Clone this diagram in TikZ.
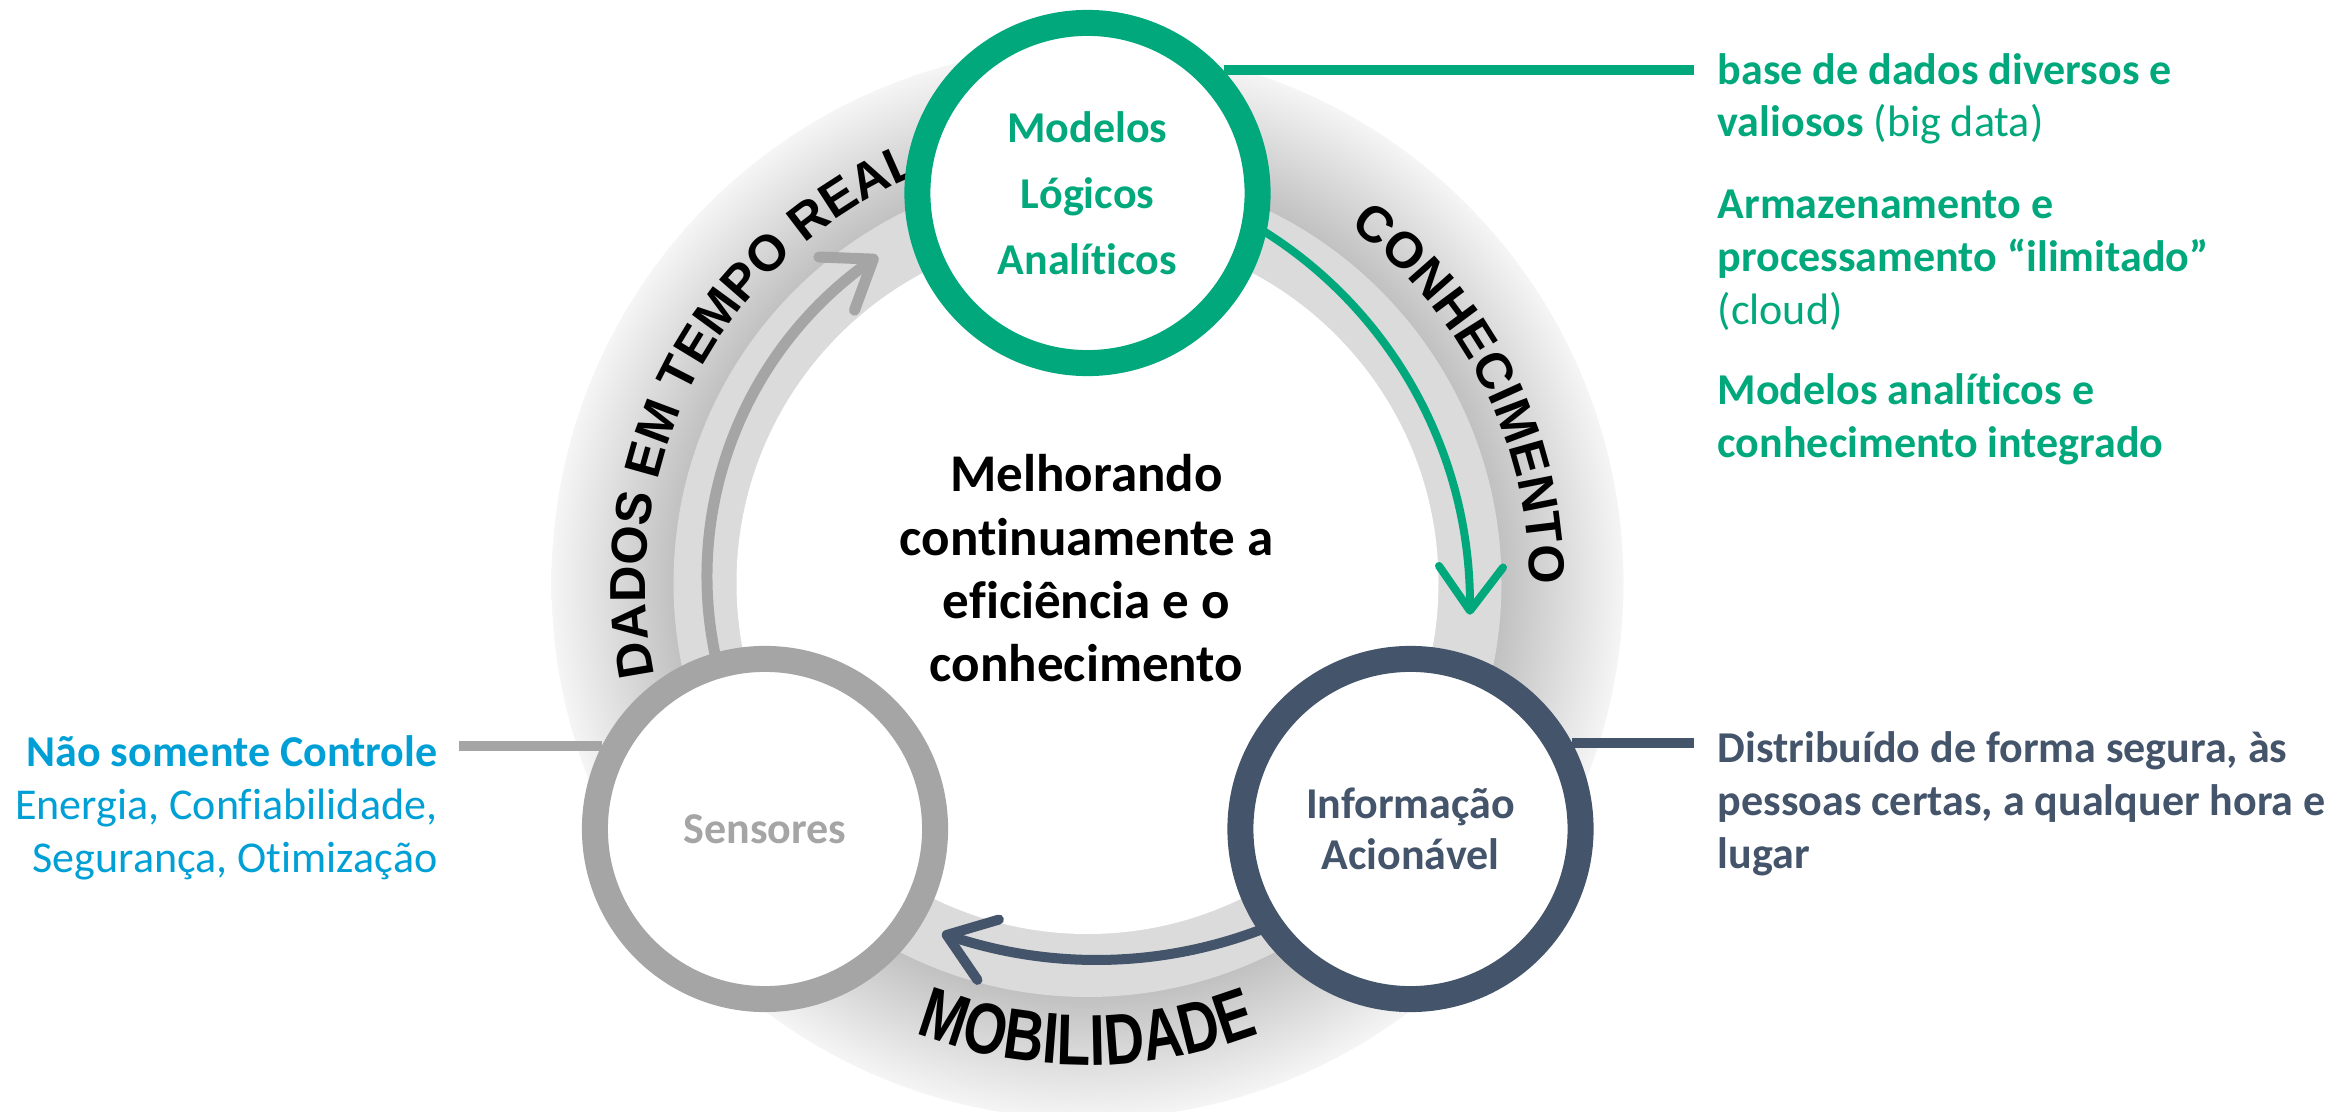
\documentclass[tikz,border=0pt]{standalone}
\usepackage{fontspec}
\setmainfont{Carlito}[Ligatures=NoCommon]
\newfontfamily\arcfont{Liberation Sans}
\newfontfamily\botfont{Liberation Sans}[FakeStretch=0.77]
\usetikzlibrary{arrows.meta,bending,decorations.text,calc}
\definecolor{cgreen}{RGB}{0,168,124}
\definecolor{cnavy}{RGB}{68,84,106}
\definecolor{cgray}{RGB}{165,165,165}
\definecolor{ccyan}{RGB}{0,160,214}
\definecolor{bandlight}{RGB}{219,219,219}
\definecolor{ringin}{RGB}{193,193,193}
\definecolor{ringout}{RGB}{245,245,245}
\pgfdeclareradialshading{ringshade}{\pgfpoint{0bp}{0bp}}{color(0bp)=(ringin); color(19.31bp)=(ringin); color(25bp)=(ringout); color(50bp)=(ringout)}
\newcommand\sidefont{\fontsize{12.52pt}{14.94pt}\selectfont}
\newcommand\centerfont{\fontsize{15.08pt}{18.01pt}\selectfont}
\newcommand\circfontA{\fontsize{12.52pt}{18.78pt}\selectfont\bfseries}
\newcommand\circfontB{\fontsize{12.52pt}{14.5pt}\selectfont\bfseries}
\newcommand\arctextfont{\arcfont\bfseries\fontsize{14.37pt}{17pt}\selectfont}
\newcommand\bottextfont{\botfont\bfseries\fontsize{20.49pt}{24pt}\selectfont}
\begin{document}
\begin{tikzpicture}[x=0.01cm,y=0.01cm,
  ringnode/.style={circle, minimum size=3.4cm, inner sep=0pt, line width=0.26cm, fill=white, align=center, font=\circfontA},
  callout/.style={line width=0.10cm},
  arcarrow/.style={-{Straight Barb[length=0.44cm,width=0.64cm,round]}},
  sidetext/.style={anchor=base west, align=left, inner sep=0pt, font=\sidefont\bfseries},
  arclabel/.style={decorate, decoration={text along path, text align=center, text={|\arctextfont|#1}}},
  botlabel/.style={decorate, decoration={text along path, text align=center, text={|\bottextfont|#1}}}
]
\useasboundingbox (0,0) rectangle (2338,1111);
\clip (0,0) rectangle (2338,1111);
\coordinate (C) at (1087.5,528);
% ring
\shade[shading=ringshade] (C) circle[radius=536];
\fill[bandlight] (C) circle[radius=414];
\fill[white] (C) circle[radius=351];
% ring labels
\path[arclabel={DADOS EM TEMPO REAL}] ($(C)+(202:442)$) arc[start angle=202, end angle=102, radius=442];
\path[arclabel={CONHECIMENTO}] ($(C)+(66.7:442)$) arc[start angle=66.7, end angle=-13.3, radius=442];
\path[botlabel={MOBILIDADE}] ($(C)+(225:482)$) arc[start angle=225, end angle=315, radius=482];
% arrows
\coordinate (gA) at (1030,507);
\coordinate (sA) at (1092,535);
\coordinate (nA) at (1096.5,611.6);
\draw[arcarrow, cgreen, line width=0.08cm] ($(gA)+(70:440)$) arc[start angle=70, end angle=-1.4, radius=440];
\draw[arcarrow, cgray, line width=0.11cm] ($(sA)+(200:385)$) arc[start angle=200, end angle=123.8, radius=385];
\draw[arcarrow, cnavy, line width=0.10cm] ($(nA)+(-50:460.6)$) arc[start angle=-50, end angle=-109.6, radius=460.6];
% circles
\node[ringnode, draw=cgreen, text=cgreen] (top) at (1087.5,918) {Modelos\\Lógicos\\Analíticos};
\node[ringnode, draw=cgray, text=cgray] (sens) at (765,282) {Sensores};
\node[ringnode, draw=cnavy, text=cnavy, font=\circfontB] (info) at (1410.5,282) {Informação\\Acionável};
% callout lines
\coordinate (gEnd) at (1694,0);
\coordinate (sEnd) at (459,0);
\coordinate (nEnd) at (1694,0);
\draw[callout, cgreen] (top.42) -- (top.42 -| gEnd);
\draw[callout, cgray] (sens.153) -- (sens.153 -| sEnd);
\draw[callout, cnavy] (info.28) -- (info.28 -| nEnd);
% center text (anchor = baseline of last line)
\node[align=center, font=\centerfont\bfseries, anchor=base] (mid) at (1086.5,429.3) {Melhorando\\continuamente a\\eficiência e o\\conhecimento};
% side texts (anchor = baseline of last line)
\node[sidetext, text=cgreen] (g1) at (1717,974) {base de dados diversos e\\valiosos {\mdseries (big data)}};
\node[sidetext, text=cgreen] (g2) at (1717,787) {Armazenamento e\\processamento “ilimitado”\\{\mdseries (cloud)}};
\node[sidetext, text=cgreen] (g3) at (1717,654) {Modelos analíticos e\\conhecimento integrado};
\node[sidetext, text=cnavy] (n1) at (1717,243) {Distribuído de forma segura, às\\pessoas certas, a qualquer hora e\\lugar};
\node[anchor=base east, align=right, inner sep=0pt, font=\sidefont, text=ccyan] (c1) at (438,239) {\textbf{Não somente Controle}\\Energia, Confiabilidade,\\Segurança, Otimização};
\end{tikzpicture}
\end{document}
